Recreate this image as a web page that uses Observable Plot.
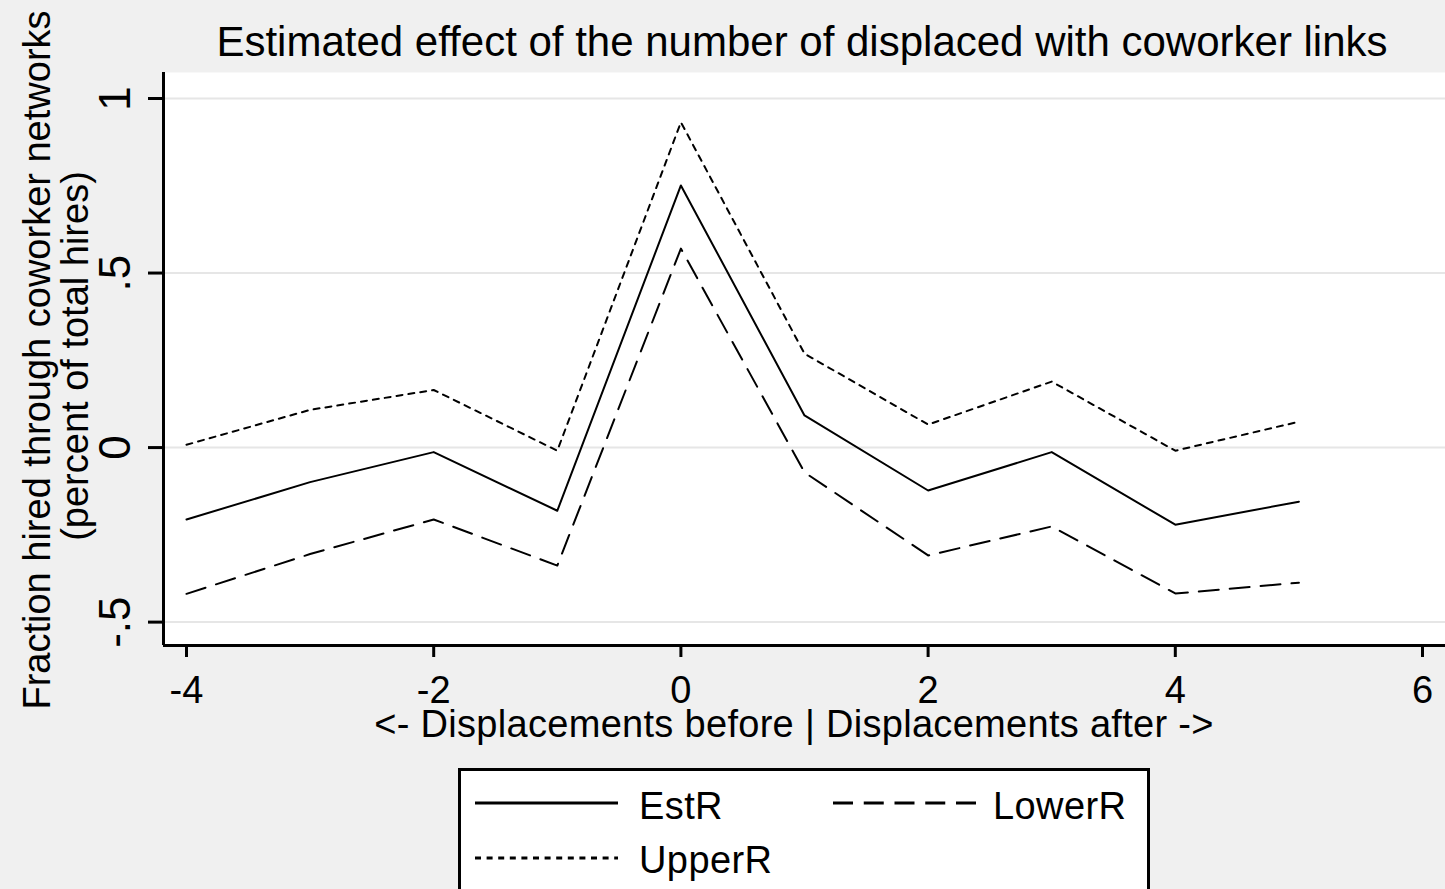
<!DOCTYPE html>
<html><head><meta charset="utf-8">
<script src="https://cdn.jsdelivr.net/npm/d3@7"></script>
<script src="https://cdn.jsdelivr.net/npm/@observablehq/plot@0.6"></script>
<style>
html,body{margin:0;padding:0;background:#f0f0f0;}
#wrap{position:relative;width:1445px;height:889px;overflow:hidden;background:#f0f0f0;font-family:"Liberation Sans",Arial,sans-serif;color:#000;}
#wrap svg{display:block;}
.lbl{position:absolute;white-space:nowrap;line-height:1;color:#000;}
.rot{transform:translate(-50%,-50%) rotate(-90deg);}
#legend{position:absolute;left:458px;top:768px;width:686px;height:200px;border:3px solid #000;background:#fff;box-sizing:content-box;}
</style></head><body>
<div id="wrap"></div>
<script>
// ---- data ----
const steps  = [-4, -3, -2, -1, 0, 1, 2, 3, 4, 5];
const estR   = [-0.206, -0.099, -0.013, -0.181, 0.751, 0.092, -0.123, -0.013, -0.221, -0.155];
const lowerR = [-0.419, -0.305, -0.206, -0.338, 0.570, -0.071, -0.309, -0.226, -0.418, -0.387];
const upperR = [0.008, 0.108, 0.165, -0.009, 0.932, 0.269, 0.066, 0.189, -0.009, 0.074];
const seriesNames = ["EstR", "LowerR", "UpperR"];
const xTicks = [-4, -2, 0, 2, 4, 6];
const xTickLabels = ["-4", "-2", "0", "2", "4", "6"];
const yTicks = [-0.5, 0, 0.5, 1];
const yTickLabels = ["-.5", "0", ".5", "1"];
const titleText = "Estimated effect of the number of displaced with coworker links";
const xTitle = "<- Displacements before | Displacements after ->";
const yTitle = ["Fraction hired through coworker networks", "(percent of total hires)"];

// ---- build ----
const valuesBySeries = {EstR: estR, LowerR: lowerR, UpperR: upperR};
const rows = seriesNames.flatMap(name => steps.map((s, i) => ({step: s, value: valuesBySeries[name][i], series: name})));
const dashPlot = {EstR: null, LowerR: "20,11", UpperR: "6,6"};
const dashLegend = {EstR: null, LowerR: "20,10.75", UpperR: "6,5.6"};

const xDomain = [-4.186, 6.186];
const yDomain = [-0.567, 1.0745];

const wrap = document.getElementById("wrap");

const chart = Plot.plot({
  width: 1445,
  height: 889,
  marginLeft: 163,
  marginRight: 0,
  marginTop: 72,
  marginBottom: 244,
  style: {background: "#f0f0f0", fontFamily: "'Liberation Sans', Arial, sans-serif", color: "#000", overflow: "visible"},
  x: {domain: xDomain},
  y: {domain: yDomain},
  marks: [
    Plot.frame({fill: "#ffffff", stroke: null}),
    Plot.gridY(yTicks, {stroke: "#e6e6e6", strokeOpacity: 1, strokeWidth: 2}),
    ...seriesNames.map(name => Plot.line(rows.filter(r => r.series === name), {
      x: "step", y: "value", stroke: "#000", strokeWidth: 2, strokeDasharray: dashPlot[name]
    })),
    Plot.ruleX([xDomain[0]], {stroke: "#000", strokeWidth: 3}),
    Plot.ruleY([yDomain[0]], {stroke: "#000", strokeWidth: 3}),
    Plot.axisX(xTicks, {tickSize: 12, tickPadding: 19, fontSize: 38, strokeWidth: 3,
      tickFormat: d => xTickLabels[xTicks.indexOf(d)], label: null}),
    Plot.axisY(yTicks, {tickSize: 15, tickPadding: 19, fontSize: 44, strokeWidth: 3, tickRotate: -90,
      tickFormat: d => yTickLabels[yTicks.indexOf(d)], label: null})
  ]
});
wrap.appendChild(chart);

function addLabel(text, opts) {
  const d = document.createElement("div");
  d.className = "lbl" + (opts.rot ? " rot" : "");
  d.textContent = text;
  d.style.fontSize = opts.fs + "px";
  if (opts.ls) d.style.letterSpacing = opts.ls + "px";
  d.style.left = opts.left + "px";
  d.style.top = opts.top + "px";
  if (opts.center && !opts.rot) d.style.transform = "translateX(-50%)";
  wrap.appendChild(d);
  return d;
}
// title (baseline 57)
addLabel(titleText, {fs: 42, left: 802, top: 57 - 0.8465 * 42, center: true});
// x title (baseline 737)
addLabel(xTitle, {fs: 38, ls: 0.3, left: 794, top: 737 - 0.8465 * 38, center: true});
// y title (rotated, baselines at x=50 and x=88)
addLabel(yTitle[0], {fs: 38, left: 50 - 0.3465 * 38, top: 360, rot: true});
addLabel(yTitle[1], {fs: 38, left: 88 - 0.3465 * 38, top: 356, rot: true});

// legend
const leg = document.createElement("div");
leg.id = "legend";
wrap.appendChild(leg);
const ns = "http://www.w3.org/2000/svg";
const lsvg = document.createElementNS(ns, "svg");
lsvg.setAttribute("width", 692); lsvg.setAttribute("height", 121);
lsvg.style.position = "absolute"; lsvg.style.left = "458px"; lsvg.style.top = "768px";
wrap.appendChild(lsvg);
const legendItems = [
  {name: "EstR", x1: 17, y: 35, tx: 639, ty: 819},
  {name: "LowerR", x1: 375, y: 35, tx: 993, ty: 819},
  {name: "UpperR", x1: 17, y: 90, tx: 639, ty: 873}
];
legendItems.forEach(it => {
  const ln = document.createElementNS(ns, "line");
  ln.setAttribute("x1", it.x1); ln.setAttribute("x2", it.x1 + 143);
  ln.setAttribute("y1", it.y); ln.setAttribute("y2", it.y);
  ln.setAttribute("stroke", "#000"); ln.setAttribute("stroke-width", 3);
  if (dashLegend[it.name]) ln.setAttribute("stroke-dasharray", dashLegend[it.name]);
  lsvg.appendChild(ln);
  addLabel(it.name, {fs: 38, ls: 0.4, left: it.tx, top: it.ty - 0.8465 * 38});
});
</script>
</body></html>
